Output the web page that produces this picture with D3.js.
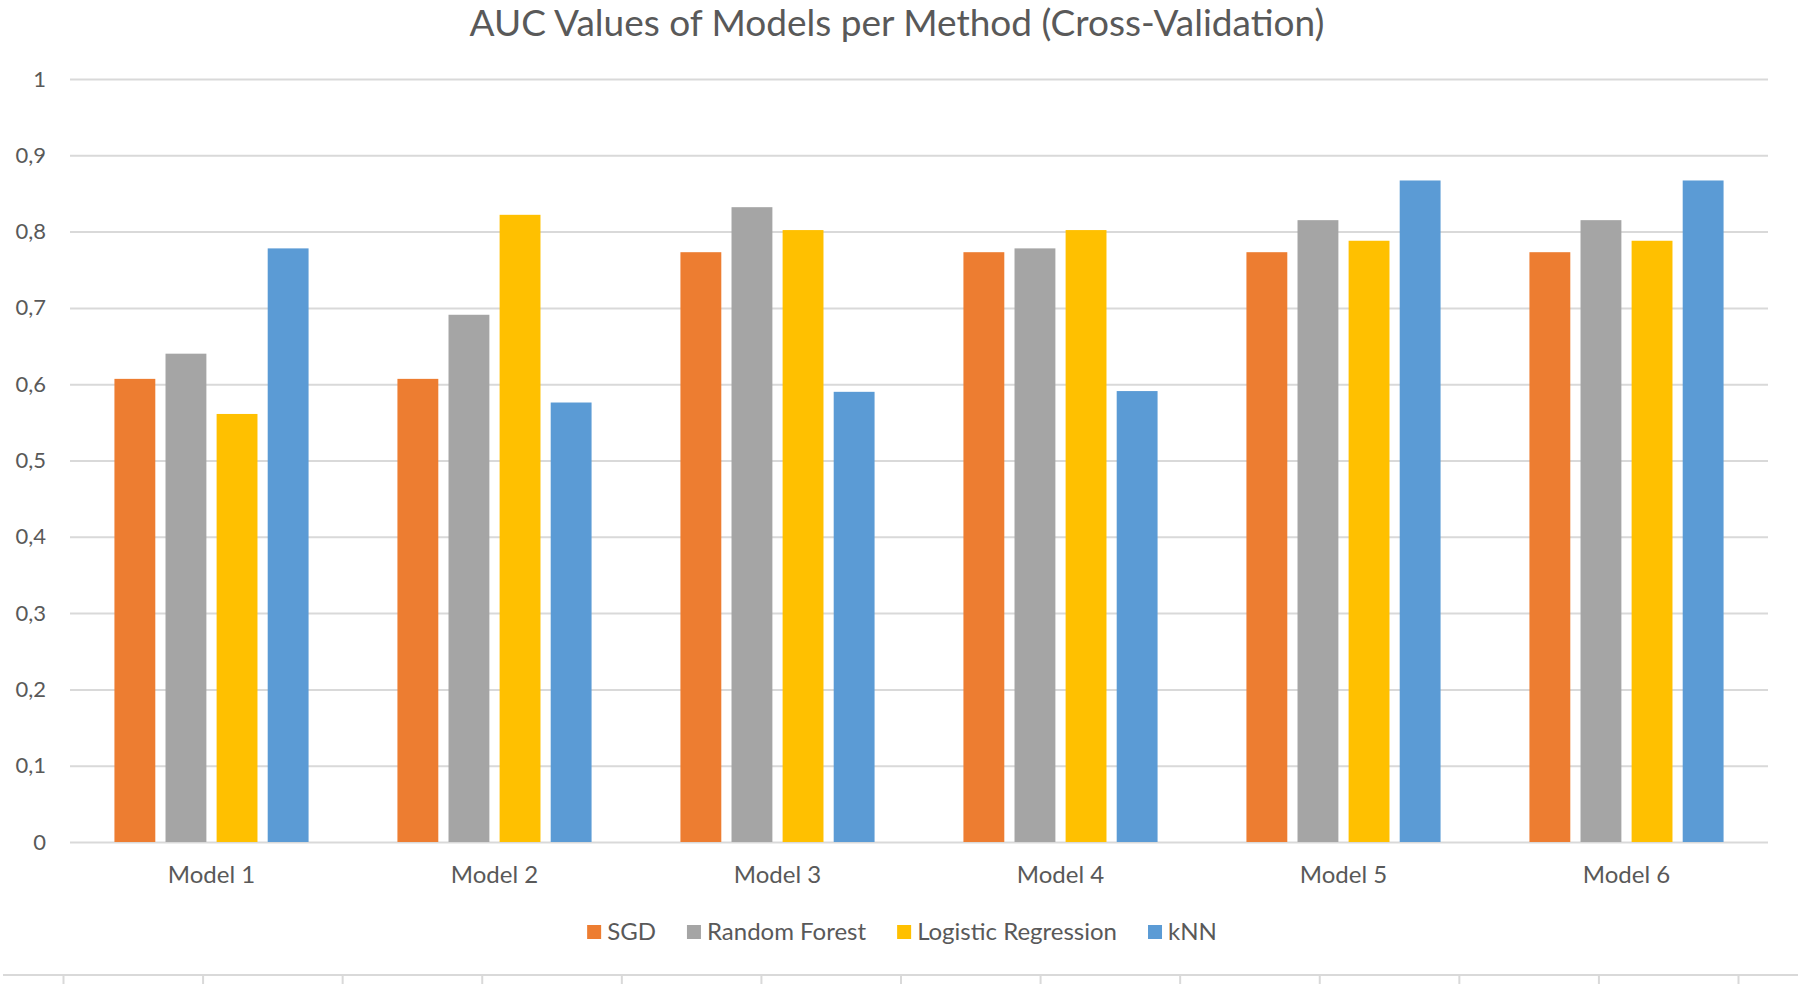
<!DOCTYPE html>
<html><head><meta charset="utf-8">
<script src="https://cdn.jsdelivr.net/npm/d3@7"></script>
<style>
html,body{margin:0;padding:0;background:#fff;}
svg{display:block;}
text{font-family:Lato,"Open Sans",sans-serif;fill:#595959;}
</style></head>
<body><svg id="chart" width="1800" height="984"></svg>
<script>
const categories = ["Model 1","Model 2","Model 3","Model 4","Model 5","Model 6"];
const seriesNames = ["SGD","Random Forest","Logistic Regression","kNN"];
const sgd = [0.607, 0.607, 0.773, 0.773, 0.773, 0.773];
const randomForest = [0.640, 0.691, 0.832, 0.778, 0.815, 0.815];
const logisticRegression = [0.561, 0.822, 0.802, 0.802, 0.788, 0.788];
const knn = [0.778, 0.576, 0.590, 0.591, 0.867, 0.867];
const yTicks = [0,0.1,0.2,0.3,0.4,0.5,0.6,0.7,0.8,0.9,1];
const colors = ["#ED7D31","#A5A5A5","#FFC000","#5B9BD5"];
const title = "AUC Values of Models per Method (Cross-Validation)";

const seriesValues = [sgd, randomForest, logisticRegression, knn];
const svg = d3.select("#chart");
const plot = {left:70, right:1768, top:79, bottom:842};

const x0 = d3.scaleBand().domain(categories).range([plot.left, plot.right])
  .paddingInner(0.314).paddingOuter(0.157);
const x1 = d3.scaleBand().domain(seriesNames).range([0, x0.bandwidth()]).paddingInner(0.2).paddingOuter(0);
const y = d3.scaleLinear().domain([0,1]).range([plot.bottom, plot.top]);
const color = d3.scaleOrdinal().domain(seriesNames).range(colors);

// gridlines
const yAxis = d3.axisLeft(y).tickValues(yTicks)
  .tickSize(-(plot.right - plot.left))
  .tickFormat(d => d3.format("~g")(d).replace(".", ","));
const gy = svg.append("g").attr("transform", `translate(${plot.left},0)`).call(yAxis);
gy.select(".domain").remove();
gy.selectAll(".tick line").attr("stroke","#D9D9D9").attr("stroke-width",2);
gy.selectAll(".tick text").attr("x",-24).attr("font-size",22).attr("fill","#595959")
  .style("font-family","Lato, 'Open Sans', sans-serif");

// bars
const groups = svg.append("g").selectAll("g").data(categories).join("g")
  .attr("transform", d => `translate(${x0(d)},0)`);
groups.selectAll("rect")
  .data((c,i) => seriesNames.map((s,j) => ({s, v: seriesValues[j][i]})))
  .join("rect")
  .attr("x", d => x1(d.s))
  .attr("width", x1.bandwidth())
  .attr("y", d => y(d.v))
  .attr("height", d => y(0) - y(d.v))
  .attr("fill", d => color(d.s));

// x axis
const xAxis = d3.axisBottom(x0).tickSize(0).tickPadding(0);
const gx = svg.append("g").attr("transform", `translate(0,${plot.bottom})`).call(xAxis);
gx.select(".domain").remove();
gx.selectAll(".tick text").attr("y", 41).attr("dy", 0).attr("font-size",24)
  .attr("fill","#595959").style("font-family","Lato, 'Open Sans', sans-serif");

// title
svg.append("text").attr("x", 897).attr("y", 36).attr("text-anchor","middle")
  .attr("font-size", 37).text(title);

// legend
const legend = svg.append("g");
const items = legend.selectAll("g").data(seriesNames).join("g");
items.append("rect").attr("width",14).attr("height",14).attr("y",-7).attr("fill", d => color(d));
items.append("text").attr("x",20).attr("y",0).attr("dy","0.35em").attr("font-size",24).text(d => d);
let xPos = 0;
items.each(function(){
  const g = d3.select(this);
  g.attr("transform", `translate(${xPos},0)`);
  xPos += 20 + g.select("text").node().getComputedTextLength() + 31;
});
const legendW = xPos - 31;
legend.attr("transform", `translate(${902 - legendW/2},932)`);

// bottom border of lower chart (partial)
const bx = d3.scaleLinear().domain([0,12]).range([63,1738]);
const bottomAxis = d3.axisBottom(bx).ticks(12).tickSize(10).tickFormat("");
const gb = svg.append("g").attr("transform","translate(0,975)").call(bottomAxis);
gb.select(".domain").attr("d","M3,0H1798").attr("stroke","#D9D9D9").attr("stroke-width",2);
gb.selectAll(".tick line").attr("stroke","#D9D9D9").attr("stroke-width",2);
</script>
</body></html>
